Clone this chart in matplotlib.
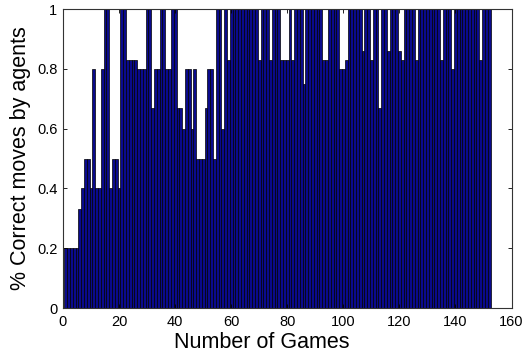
import matplotlib
matplotlib.use("Agg")
import matplotlib.pyplot as plt
import numpy as np

# Fraction of correct moves per game
games = list(range(1, 153))
correct = [
    0.2, 0.2, 0.2, 0.2, 0.2, 0.33, 0.4, 0.5, 0.5, 0.4,          # 1-10
    0.8, 0.4, 0.4, 0.8, 1.0, 1.0, 0.4, 0.5, 0.5, 0.4,           # 11-20
    1.0, 1.0, 0.83, 0.83, 0.83, 0.83, 0.8, 0.8, 0.8, 1.0,       # 21-30
    1.0, 0.67, 0.8, 0.8, 1.0, 1.0, 0.8, 0.8, 1.0, 1.0,          # 31-40
    0.67, 0.67, 0.6, 0.8, 0.8, 0.6, 0.8, 0.5, 0.5, 0.5,         # 41-50
    0.67, 0.8, 0.8, 0.5, 1.0, 1.0, 0.6, 1.0, 0.83, 1.0,         # 51-60
    1.0, 1.0, 1.0, 1.0, 1.0, 1.0, 1.0, 1.0, 1.0, 0.83,          # 61-70
    1.0, 1.0, 1.0, 0.83, 1.0, 1.0, 1.0, 0.83, 0.83, 0.83,       # 71-80
    1.0, 0.83, 1.0, 1.0, 1.0, 0.75, 1.0, 1.0, 1.0, 1.0,         # 81-90
    1.0, 1.0, 0.83, 0.83, 1.0, 1.0, 1.0, 1.0, 0.8, 0.8,         # 91-100
    0.83, 1.0, 1.0, 1.0, 1.0, 1.0, 0.86, 1.0, 1.0, 0.83,        # 101-110
    1.0, 1.0, 0.67, 1.0, 1.0, 0.86, 1.0, 1.0, 1.0, 0.86,        # 111-120
    0.83, 1.0, 1.0, 1.0, 1.0, 0.83, 1.0, 1.0, 1.0, 1.0,         # 121-130
    1.0, 1.0, 1.0, 1.0, 0.83, 1.0, 1.0, 1.0, 0.8, 1.0,          # 131-140
    1.0, 1.0, 1.0, 1.0, 1.0, 1.0, 1.0, 1.0, 0.83, 1.0,          # 141-150
    1.0, 1.0,                                                   # 151-152
]

xticks = [0, 20, 40, 60, 80, 100, 120, 140, 160]
yticks = [0, 0.2, 0.4, 0.6, 0.8, 1.0]
ytick_labels = ["0", "0.2", "0.4", "0.6", "0.8", "1"]

plt.rcParams['font.family'] = ['Liberation Sans', 'DejaVu Sans']

fig = plt.figure(figsize=(5.29, 3.52), dpi=100)
ax = fig.add_axes([0.119, 0.125, 0.848, 0.849])

ax.bar(games, correct, width=1.0, color='#0A0A8C', edgecolor='black', linewidth=0.5)

ax.set_xlim(0, 160)
ax.set_ylim(0, 1)
ax.set_xticks(xticks)
ax.set_xticklabels([str(t) for t in xticks], fontsize=10.5)
ax.set_yticks(yticks)
ax.set_yticklabels(ytick_labels, fontsize=10.5)
ax.tick_params(direction='in', top=True, right=True, length=3, width=0.6)
ax.tick_params(axis='x', pad=5)
ax.tick_params(axis='y', pad=4)
for s in ax.spines.values():
    s.set_linewidth(0.8)
    s.set_color('#333333')

ax.set_xlabel("Number of Games", fontsize=15.5)
ax.xaxis.set_label_coords(0.444, -0.08)
ax.xaxis.label.set_verticalalignment('top')
ax.set_ylabel("% Correct moves by agents", fontsize=15.5, labelpad=4)

fig.savefig("out.png", dpi=100)
